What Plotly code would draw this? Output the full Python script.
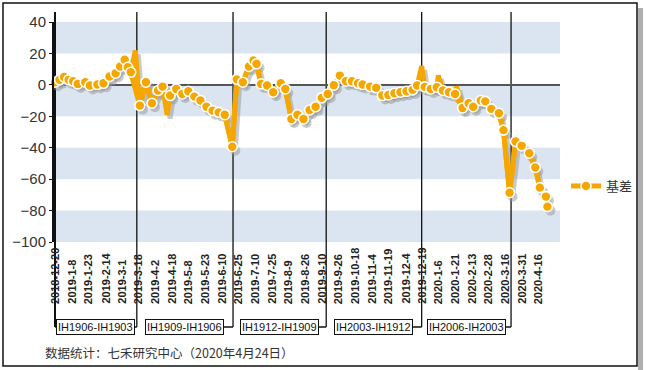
import plotly.graph_objects as go

# ---------------- data ----------------
tick_labels = ["2018-12-20", "2019-1-8", "2019-1-23", "2019-2-14", "2019-3-1", "2019-3-18",
               "2019-4-2", "2019-4-18", "2019-5-8", "2019-5-23", "2019-6-10", "2019-6-25",
               "2019-7-10", "2019-7-25", "2019-8-9", "2019-8-26", "2019-9-10", "2019-9-26",
               "2019-10-18", "2019-11-4", "2019-11-19", "2019-12-4", "2019-12-19", "2020-1-6",
               "2020-1-21", "2020-2-13", "2020-2-28", "2020-3-16", "2020-3-31", "2020-4-16"]
tick_step = 11  # trading days between labels

# trading-day index (from 2018-12-20) and basis value (marked points)
day_index = [0, 3, 6, 9, 12, 15, 20, 23, 28, 32, 36, 40, 43, 46, 48, 50,
             56, 60, 64, 68, 71, 76, 80, 84, 88, 92, 96, 100, 104, 108, 112, 117,
             120, 124, 128, 131, 133, 136, 140, 144, 149, 152, 156, 160, 164, 168, 172, 176,
             180, 184, 188, 192, 196, 200, 203, 208, 212, 216, 220, 224, 228, 232, 236, 239,
             244, 248, 252, 256, 260, 264, 269, 273, 276, 281, 284, 288, 293, 296, 300,
             304, 308, 313, 317, 320, 324, 325]
basis = [1.7, 3.2, 5.0, 3.2, 2.3, 0.6, 1.7, -0.4, 0.2, 1.0, 5.3, 7.4, 11.7, 16.0, 11.2, 8.0,
         -13.2, 1.7, -11.7, -3.6, -1.1, -6.8, -2.6, -5.8, -4.1, -7.5, -10.0, -13.9, -16.4, -17.5, -19.0, -39.4,
         3.5, 1.7, 11.7, 15.5, 13.4, 0.6, -0.4, -4.7, 1.0, -2.6, -21.7, -19.0, -21.7, -16.0, -13.9, -8.3,
         -5.8, -0.2, 5.9, 2.3, 2.3, 1.0, 0.2, -1.1, -1.9, -6.8, -6.4, -5.3, -4.7, -4.1, -3.2, -0.4,
         -1.3, -2.6, -1.5, -3.6, -4.7, -5.8, -14.7, -11.7, -13.9, -10.0, -10.5, -15.3, -18.1, -28.8, -68.6,
         -36.0, -38.8, -43.5, -52.6, -65.4, -71.1, -77.5]

# unmarked line extremes (sharp spikes of the line between markers)
spike_index = [53, 74, 242, 253, 265]
spike_basis = [21.9, -19.0, 12.0, 6.0, -1.0]

roll_index = [0, 54, 117.5, 179, 242, 301]
contract_labels = ["IH1906-IH1903", "IH1909-IH1906", "IH1912-IH1909", "IH2003-IH1912", "IH2006-IH2003"]
band_ranges = [(20, 40), (-20, 0), (-60, -40), (-100, -80)]
series_name = "基差"
footer = "数据统计：七禾研究中心（2020年4月24日）"

# ---------------- layout geometry ----------------
W, H = 646, 370
L, R, T, B = 54, 86, 22, 128
PW, PH = W - L - R, H - T - B


def paper_x(px):
    return (px - L) / PW


def paper_y(py):
    return (H - B - py) / PH


ORANGE = "#F5A700"
SHADOW = "rgba(150,150,150,0.5)"
x_range = [-0.66, 333.3]
px_per_day = PW / (x_range[1] - x_range[0])
px_per_unit = PH / 140.0
dx, dy = 3 / px_per_day, 4 / px_per_unit

line_pts = sorted(list(zip(day_index, basis)) + list(zip(spike_index, spike_basis)))
line_x = [p[0] for p in line_pts]
line_y = [p[1] for p in line_pts]

fig = go.Figure()

# shadow of the series
fig.add_trace(go.Scatter(
    x=[d + dx for d in line_x], y=[v - dy for v in line_y],
    mode="lines", line=dict(color=SHADOW, width=5),
    showlegend=False, hoverinfo="skip", cliponaxis=False,
))
fig.add_trace(go.Scatter(
    x=[d + dx for d in day_index], y=[v - dy for v in basis],
    mode="markers", marker=dict(size=10, color=SHADOW),
    showlegend=False, hoverinfo="skip", cliponaxis=False,
))
# series line (including spikes)
fig.add_trace(go.Scatter(
    x=line_x, y=line_y, mode="lines",
    line=dict(color=ORANGE, width=5),
    showlegend=False, hoverinfo="skip", cliponaxis=False,
))
# series markers (legend entry)
fig.add_trace(go.Scatter(
    x=day_index, y=basis, name=series_name,
    mode="lines+markers",
    line=dict(color=ORANGE, width=5),
    marker=dict(size=10, color=ORANGE, line=dict(color="white", width=1.6)),
    cliponaxis=False,
))

shapes = []
# background bands
for y0, y1 in band_ranges:
    shapes.append(dict(type="rect", xref="paper", yref="y", x0=0, x1=1, y0=y0, y1=y1,
                       fillcolor="#DBE5F1", line=dict(width=0), layer="below"))

# contract roll lines
top_y = paper_y(12)
bot_y = paper_y(327)
for i, r in enumerate(roll_index):
    shapes.append(dict(type="line", xref="x", yref="paper", x0=r, x1=r, y0=bot_y, y1=top_y,
                       line=dict(color="#111111", width=2 if i == 0 else 1.3), layer="below"))
for i in range(len(contract_labels)):
    a, b = roll_index[i], roll_index[i + 1]
    start = a if i == 0 else (a + b) / 2
    shapes.append(dict(type="line", xref="x", yref="paper", x0=start, x1=b, y0=bot_y, y1=bot_y,
                       line=dict(color="#111111", width=1.3), layer="below"))

# outer frame and its shadow
shapes.append(dict(type="rect", xref="paper", yref="paper",
                   x0=paper_x(638), x1=paper_x(643), y0=paper_y(370), y1=paper_y(8),
                   fillcolor="#B0B0B0", line=dict(width=0), layer="below"))
shapes.append(dict(type="rect", xref="paper", yref="paper",
                   x0=paper_x(3), x1=paper_x(637), y0=paper_y(366), y1=paper_y(3),
                   fillcolor="rgba(0,0,0,0)", line=dict(color="#111111", width=1.5), layer="below"))

annotations = []
# rotated x tick labels (bottom aligned)
for k, lab in enumerate(tick_labels):
    annotations.append(dict(x=k * tick_step, y=paper_y(306), xref="x", yref="paper",
                            text="<b>" + lab + "</b>", textangle=-90, showarrow=False,
                            xanchor="center", yanchor="bottom",
                            font=dict(family="Liberation Sans, Arial", size=11, color="#222222")))
# contract boxes
for i, lab in enumerate(contract_labels):
    a, b = roll_index[i], roll_index[i + 1]
    annotations.append(dict(x=(a + b) / 2, y=bot_y, xref="x", yref="paper", text=lab,
                            showarrow=False, xanchor="center", yanchor="middle",
                            bgcolor="white", bordercolor="#111111", borderwidth=1, borderpad=1,
                            font=dict(family="Liberation Sans, Arial", size=11, color="#111111")))
# footer
annotations.append(dict(x=paper_x(43), y=paper_y(353), xref="paper", yref="paper", text=footer,
                        showarrow=False, xanchor="left", yanchor="middle",
                        font=dict(family="Noto Sans CJK SC", size=12.5, color="#333333")))

fig.update_layout(
    width=W, height=H,
    margin=dict(l=L, r=R, t=T, b=B, autoexpand=False),
    paper_bgcolor="white", plot_bgcolor="white",
    shapes=shapes, annotations=annotations,
    showlegend=True,
    legend=dict(x=paper_x(566), y=paper_y(186), xanchor="left", yanchor="middle",
                font=dict(family="Noto Sans CJK SC", size=13, color="#333333"),
                bgcolor="rgba(0,0,0,0)", itemwidth=30),
    xaxis=dict(range=x_range, showticklabels=False, showgrid=False, zeroline=False,
               showline=False, ticks=""),
    yaxis=dict(range=[-100, 40], dtick=20, tick0=0, showgrid=False,
               zeroline=True, zerolinecolor="#555555", zerolinewidth=1.5,
               showline=True, linecolor="#111111", linewidth=2,
               ticks="outside", ticklen=3, tickcolor="#111111",
               tickfont=dict(family="Liberation Sans, Arial", size=15, color="#333333")),
)

fig.write_html("out.html", config={"displayModeBar": False},
               post_script="document.body.style.margin='0';document.body.style.overflow='hidden';")
